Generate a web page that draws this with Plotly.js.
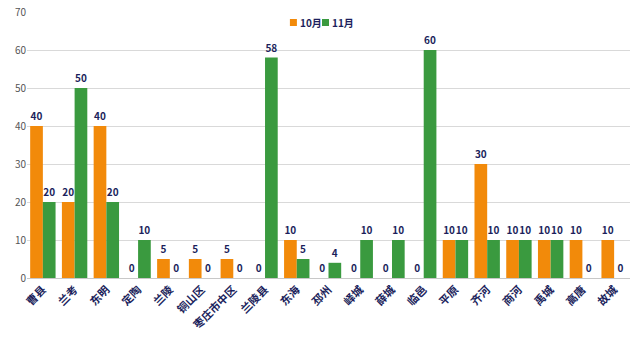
<!DOCTYPE html>
<html>
<head>
<meta charset="utf-8">
<script src="https://cdn.plot.ly/plotly-3.0.1.min.js"></script>
<style>html,body{margin:0;padding:0;background:#fff;}#chart{width:640px;height:339px;}</style>
</head>
<body>
<div id="chart"></div>
<script>
const categories = ["曹县","兰考","东明","定陶","兰陵","铜山区","枣庄市中区","兰陵县","东海","邳州","峄城","薛城","临邑","平原","齐河","商河","禹城","高唐","故城"];
const oct = [40,20,40,0,5,5,5,0,10,0,0,0,0,10,30,10,10,10,10];
const nov = [20,50,20,10,0,0,0,58,5,4,10,10,60,10,10,10,10,0,0];
const seriesNames = ["10月","11月"];
const colors = ['#f28a0a','#3a9a3f'];

const fontFam = '"Noto Sans CJK SC", "Noto Sans", sans-serif';
const labelColor = '#1c1f5c';

const traces = [
  {type:'bar', name:seriesNames[0], x:categories, y:oct, marker:{color:colors[0]},
   text:oct.map(String), textposition:'outside', cliponaxis:false,
   textfont:{size:10, color:labelColor, family:fontFam, weight:'bold'}},
  {type:'bar', name:seriesNames[1], x:categories, y:nov, marker:{color:colors[1]},
   text:nov.map(String), textposition:'outside', cliponaxis:false,
   textfont:{size:10, color:labelColor, family:fontFam, weight:'bold'}}
];

// custom compact legend (paper coords)
const legX = [0.436, 0.4892];
const legY = 0.9605;
const shapes = legX.map((x,i)=>({type:'rect', xref:'paper', yref:'paper',
  xsizemode:'pixel', ysizemode:'pixel', xanchor:x, yanchor:legY,
  x0:0, x1:7, y0:-3.5, y1:3.5, fillcolor:colors[i], line:{width:0}}));
const annotations = legX.map((x,i)=>({xref:'paper', yref:'paper', x:x+0.0133, y:legY,
  xanchor:'left', yanchor:'middle', showarrow:false, text:seriesNames[i],
  font:{size:10, color:labelColor, family:fontFam, weight:'bold'}}));

const layout = {
  width:640, height:339,
  margin:{l:27, r:10, t:12, b:61},
  paper_bgcolor:'#fff', plot_bgcolor:'#fff',
  font:{family:fontFam, size:10, color:'#444'},
  barmode:'group', bargap:0.2, bargroupgap:0,
  showlegend:false,
  shapes:shapes, annotations:annotations,
  xaxis:{tickangle:-45, tickfont:{size:11, color:labelColor, family:fontFam, weight:'bold'},
         showline:true, linecolor:'#c8c8c8', linewidth:1, ticks:'', automargin:false},
  yaxis:{range:[0,70], dtick:10, showgrid:true, gridcolor:'#d9d9d9', zeroline:false,
         tickfont:{size:10, color:'#555'}, ticks:'', automargin:false}
};

Plotly.newPlot('chart', traces, layout, {displayModeBar:false, staticPlot:true});
</script>
</body>
</html>
